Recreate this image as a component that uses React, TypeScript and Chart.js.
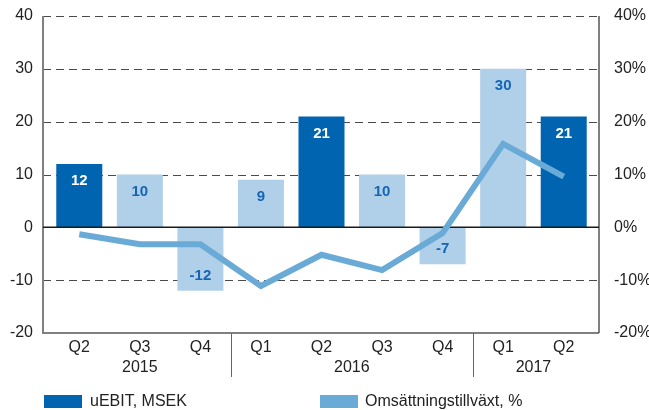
import React, { useEffect, useRef } from "react";
import { Chart, registerables } from "chart.js";

Chart.register(...registerables);

const quarterLabels = ["Q2", "Q3", "Q4", "Q1", "Q2", "Q3", "Q4", "Q1", "Q2"];
const yearLabels = ["2015", "2016", "2017"];
const yearStart = [0, 3, 7];
const yearEnd = [2, 6, 8];
const uebit = [12, 10, -12, 9, 21, 10, -7, 30, 21];
const isDark = [true, false, false, false, true, false, false, false, true];
const growth = [-1.3, -3.2, -3.2, -11.1, -5.2, -8.1, -1.1, 15.8, 9.6];
const gridValues = [-10, 10, 20, 30, 40];
const seriesNames = ["uEBIT, MSEK", "Omsättningstillväxt, %"];

const DARK = "#0064B0";
const LIGHT = "#B0D0EA";
const LINE = "#6AAAD6";
const TEXT = "#222222";
const FONT = "'Liberation Sans', Arial, sans-serif";

const customPlugin = {
  id: "custom",
  beforeDatasetsDraw(chart: any) {
    const { ctx, chartArea } = chart;
    const y = chart.scales.y;
    const left = chartArea.left - 6;
    const right = chartArea.right + 5;
    ctx.save();
    ctx.strokeStyle = "#4a4a4a";
    ctx.lineWidth = 1;
    ctx.setLineDash([8, 5]);
    for (const v of gridValues) {
      const py = Math.round(y.getPixelForValue(v)) + 0.5;
      ctx.beginPath();
      ctx.moveTo(left, py);
      ctx.lineTo(right, py);
      ctx.stroke();
    }
    ctx.setLineDash([]);
    const top = y.getPixelForValue(40);
    const bottom = y.getPixelForValue(-20);
    ctx.strokeStyle = "#808080";
    ctx.lineWidth = 2;
    ctx.beginPath();
    ctx.moveTo(left, top);
    ctx.lineTo(left, bottom);
    ctx.lineTo(right, bottom);
    ctx.stroke();
    ctx.strokeStyle = "#555555";
    ctx.lineWidth = 1.5;
    ctx.beginPath();
    ctx.moveTo(right, top);
    ctx.lineTo(right, bottom);
    ctx.stroke();
    ctx.restore();
  },
  afterDatasetDraw(chart: any, args: any) {
    if (args.index !== 0) return;
    const { ctx, chartArea } = chart;
    const y = chart.scales.y;
    const left = chartArea.left - 6;
    const right = chartArea.right + 5;
    const zy = y.getPixelForValue(0);
    ctx.save();
    ctx.strokeStyle = "#1a1a1a";
    ctx.lineWidth = 1.5;
    ctx.beginPath();
    ctx.moveTo(left, zy);
    ctx.lineTo(right, zy);
    ctx.stroke();
    ctx.font = "bold 15px " + FONT;
    ctx.textAlign = "center";
    ctx.textBaseline = "middle";
    const meta = chart.getDatasetMeta(0);
    meta.data.forEach((bar: any, i: number) => {
      const v = uebit[i];
      ctx.fillStyle = isDark[i] ? "#ffffff" : "#1565B4";
      const ty = v >= 0 ? bar.y + 17 : bar.y - 15;
      ctx.fillText(String(v), bar.x, ty);
    });
    ctx.restore();
  },
  afterDraw(chart: any) {
    const { ctx, chartArea } = chart;
    const x = chart.scales.x;
    ctx.save();
    ctx.strokeStyle = "#666666";
    ctx.lineWidth = 1;
    for (let k = 0; k < yearStart.length - 1; k++) {
      const a = x.getPixelForValue(yearEnd[k]);
      const b = x.getPixelForValue(yearStart[k + 1]);
      const sx = Math.round((a + b) / 2) + 0.5;
      ctx.beginPath();
      ctx.moveTo(sx, chartArea.bottom);
      ctx.lineTo(sx, chartArea.bottom + 44);
      ctx.stroke();
    }
    ctx.fillStyle = TEXT;
    ctx.font = "16px " + FONT;
    ctx.textAlign = "center";
    ctx.textBaseline = "middle";
    yearLabels.forEach((lab, k) => {
      const cx = (x.getPixelForValue(yearStart[k]) + x.getPixelForValue(yearEnd[k])) / 2;
      ctx.fillText(lab, cx, chartArea.bottom + 35);
    });
    ctx.textAlign = "left";
    ctx.fillStyle = DARK;
    ctx.fillRect(44, 395, 38, 13);
    ctx.fillStyle = TEXT;
    ctx.fillText(seriesNames[0], 90, 402);
    ctx.fillStyle = LINE;
    ctx.fillRect(320, 395, 38, 13);
    ctx.fillStyle = TEXT;
    ctx.fillText(seriesNames[1], 365, 402);
    ctx.restore();
  },
};

const fitY = (w: number) => (s: any) => {
  s.width = w;
  s.paddingTop = 0;
  s.paddingBottom = 0;
};

export default function App() {
  const canvasRef = useRef<HTMLCanvasElement | null>(null);

  useEffect(() => {
    document.body.style.margin = "0";
    const canvas = canvasRef.current;
    if (!canvas) return;
    const chart = new Chart(canvas, {
      data: {
        labels: quarterLabels,
        datasets: [
          {
            type: "bar",
            label: seriesNames[0],
            data: uebit,
            backgroundColor: isDark.map((d) => (d ? DARK : LIGHT)),
            borderWidth: 0,
            barPercentage: 0.76,
            categoryPercentage: 1,
            yAxisID: "y",
            order: 2,
          },
          {
            type: "line",
            label: seriesNames[1],
            data: growth,
            borderColor: LINE,
            borderWidth: 6,
            pointRadius: 0,
            tension: 0,
            fill: false,
            borderJoinStyle: "miter",
            yAxisID: "y1",
            order: 1,
          },
        ] as any,
      },
      options: {
        responsive: false,
        animation: false,
        layout: { padding: { top: 16, left: 0, right: 0, bottom: 0 } },
        plugins: { legend: { display: false }, tooltip: { enabled: false } },
        scales: {
          x: {
            grid: { display: false, drawTicks: false },
            border: { display: false },
            ticks: { color: TEXT, font: { size: 16, family: FONT }, padding: 5, maxRotation: 0 },
            afterFit: (s: any) => {
              s.height = 77;
              s.paddingLeft = 0;
              s.paddingRight = 0;
            },
          },
          y: {
            position: "left",
            min: -20,
            max: 40,
            grid: { display: false, drawTicks: false },
            border: { display: false },
            ticks: { stepSize: 10, color: TEXT, font: { size: 16, family: FONT }, padding: 16 },
            afterFit: fitY(49),
          },
          y1: {
            position: "right",
            min: -20,
            max: 40,
            grid: { display: false, drawTicks: false },
            border: { display: false },
            ticks: {
              stepSize: 10,
              color: TEXT,
              font: { size: 16, family: FONT },
              padding: 20,
              callback: (v: any) => v + "%",
            },
            afterFit: fitY(55),
          },
        },
      } as any,
      plugins: [customPlugin],
    });
    return () => chart.destroy();
  }, []);

  return (
    <div style={{ width: 649, height: 410, position: "relative" }}>
      <canvas ref={canvasRef} width={649} height={410} />
    </div>
  );
}
